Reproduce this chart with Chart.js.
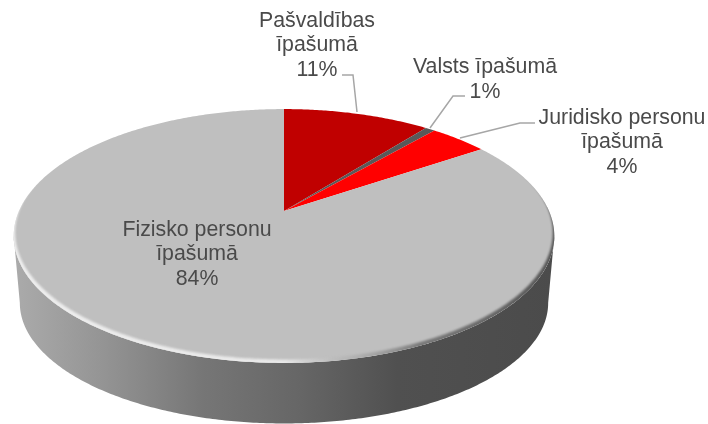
<!DOCTYPE html>
<html><head><meta charset="utf-8">
<style>html,body{margin:0;padding:0;background:#fff}#w{position:relative;width:708px;height:424px}</style>
<script src="https://cdn.jsdelivr.net/npm/chart.js@4"></script></head>
<body><div id="w"><canvas id="c" width="708" height="424"></canvas></div>
<script>
const categories=["Pašvaldības īpašumā","Valsts īpašumā","Juridisko personu īpašumā","Fizisko personu īpašumā"];
const values=[10.6,0.7,4.2,84.4];
const colors=["#C00000","#595959","#FF0000","#BFBFBF"];
const labelLines=[["Pašvaldības","īpašumā","11%"],["Valsts īpašumā","1%"],["Juridisko personu","īpašumā","4%"],["Fizisko personu","īpašumā","84%"]];
const labelPos=[[317,21],[485,67.5],[622,118],[197,230]];
const leaders=[[[342,75],[353,75],[357,112]],[[465,96],[453,96],[430,128]],[[535,123],[520,123],[460,138]]];

const topP={cx:284,cy:211,rx:265,ry:122,k:0.197};
const botP={cx:284,cy:279,rx:259,ry:116,k:0.197};
const bevelP={cx:284,cy:207.5,rx:263.5,ry:122,k:0.197};
function proj(p,u,v){const w=1+p.k*v;return [p.cx+p.rx*u/w,p.cy-p.ry*v/w];}
function outline(ctx,p,a0,a1,move){
  const n=Math.max(2,Math.ceil(Math.abs(a1-a0)/0.01));
  for(let i=0;i<=n;i++){const a=a0+(a1-a0)*i/n;const q=proj(p,Math.cos(a),-Math.sin(a));
    if(i===0&&move)ctx.moveTo(q[0],q[1]);else ctx.lineTo(q[0],q[1]);}
}
const pie3d={id:'pie3d',
  beforeDatasetsDraw(chart){
    const ctx=chart.ctx,arcs=chart.getDatasetMeta(0).data;
    ctx.save();
    const g=ctx.createLinearGradient(13,0,555,0);
    g.addColorStop(0,'#ABABAB');g.addColorStop(0.16,'#959595');g.addColorStop(0.35,'#767676');
    g.addColorStop(0.53,'#666666');g.addColorStop(0.71,'#505050');g.addColorStop(1,'#4B4B4B');
    ctx.fillStyle=g;ctx.beginPath();
    const w=Math.asin(topP.k);
    const s=proj(topP,-Math.cos(w),-Math.sin(w));
    ctx.moveTo(s[0],s[1]);outline(ctx,botP,Math.PI-w,w,false);
    outline(ctx,topP,w,Math.PI-w,false);ctx.closePath();ctx.fill();
    arcs.forEach((arc,i)=>{
      ctx.beginPath();const o=proj(topP,0,0);ctx.moveTo(o[0],o[1]);
      outline(ctx,topP,arc.startAngle,arc.endAngle,false);ctx.closePath();
      ctx.fillStyle=arc.options.backgroundColor;ctx.fill();
    });
    ctx.save();ctx.beginPath();outline(ctx,topP,0,Math.PI*2,true);ctx.closePath();ctx.clip();
    const h=ctx.createLinearGradient(13,0,555,0);
    h.addColorStop(0,'rgba(240,240,240,.95)');h.addColorStop(0.5,'rgba(240,240,240,.85)');
    h.addColorStop(0.62,'rgba(170,170,170,.5)');h.addColorStop(0.75,'rgba(105,105,105,.8)');h.addColorStop(1,'rgba(85,85,85,1)');
    ctx.fillStyle=h;ctx.filter='blur(1px)';
    ctx.beginPath();ctx.rect(0,0,708,424);outline(ctx,bevelP,0,Math.PI*2,true);ctx.closePath();ctx.fill('evenodd');
    ctx.restore();
    ctx.restore();
    return false;
  },
  afterDraw(chart){
    const ctx=chart.ctx;ctx.save();
    ctx.strokeStyle='#A6A6A6';ctx.lineWidth=1.5;
    leaders.forEach(l=>{ctx.beginPath();l.forEach((q,i)=>i?ctx.lineTo(q[0],q[1]):ctx.moveTo(q[0],q[1]));ctx.stroke();});
    ctx.fillStyle='#4A4A4A';ctx.font='21.3px "Liberation Sans",Arial,sans-serif';
    ctx.textAlign='center';ctx.textBaseline='middle';
    labelLines.forEach((ls,i)=>ls.forEach((t,j)=>ctx.fillText(t,labelPos[i][0],labelPos[i][1]+j*24.6)));
    ctx.restore();
  }
};
new Chart(document.getElementById('c'),{type:'pie',
  data:{labels:categories,datasets:[{data:values,backgroundColor:colors,borderWidth:0}]},
  options:{responsive:false,animation:false,plugins:{legend:{display:false},tooltip:{enabled:false}}},
  plugins:[pie3d]});
</script></body></html>
